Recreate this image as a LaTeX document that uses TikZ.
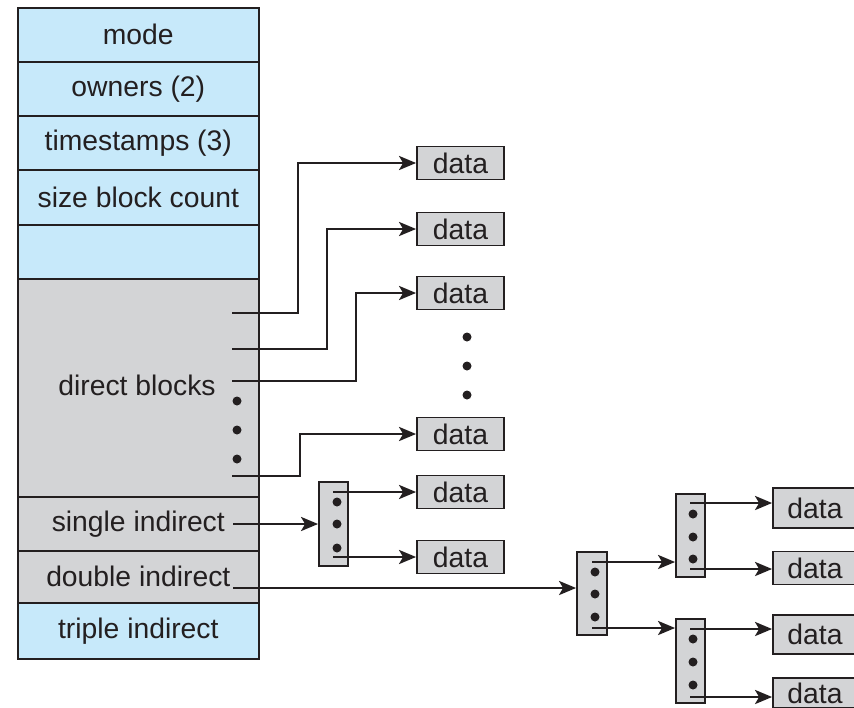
\documentclass[tikz,border=0pt]{standalone}
\usepackage{fontspec}
\setmainfont{Liberation Sans}
\usetikzlibrary{arrows.meta}
\definecolor{iblue}{RGB}{199,233,250}
\definecolor{igray}{RGB}{211,212,214}
\definecolor{ink}{RGB}{35,31,32}
\tikzset{
    cell/.style={draw=ink, line width=1.6pt, minimum width=241pt, inner sep=0pt,
        anchor=north west, text=ink, font=\fontsize{28.3}{30}\selectfont},
    datbox/.style={draw=ink, fill=igray, line width=1.8pt, minimum width=87pt,
        minimum height=33pt, inner sep=0pt, text=ink, font=\fontsize{28.3}{30}\selectfont},
    idxbox/.style={draw=ink, fill=igray, line width=1.8pt, minimum width=29pt,
        minimum height=84pt, inner sep=0pt},
    ptr/.style={draw=ink, line width=2.8pt, -{Stealth[length=17pt, width=14pt, inset=4pt]}},
}
\begin{document}
\begin{tikzpicture}[x=1pt, y=-1pt]
    \useasboundingbox (0, 0) rectangle (854, 707);
    % inode
    \node[cell, fill=iblue, minimum height=54pt] (mode) at (17, 7) {mode};
    \node[cell, fill=iblue, minimum height=54pt] (owners) at (17, 61) {owners (2)};
    \node[cell, fill=iblue, minimum height=54pt] (stamps) at (17, 115) {timestamps (3)};
    \node[cell, fill=iblue, minimum height=55pt] (size) at (17, 169) {size block count};
    \node[cell, fill=iblue, minimum height=54pt] (blank) at (17, 224) {};
    \node[cell, fill=igray, minimum height=218pt] (direct) at (17, 278) {};
    \node[cell, fill=igray, minimum height=54pt] (single) at (17, 496) {single indirect};
    \node[cell, fill=igray, minimum height=52pt] (double) at (17, 550) {double indirect};
    \node[cell, fill=iblue, minimum height=56pt] (triple) at (17, 602) {triple indirect};
    \node[text=ink, font=\fontsize{28.3}{30}\selectfont] (dirtxt) at (137, 385) {direct blocks};
    \foreach \y in {401, 430, 459} \fill[ink] (237, \y) circle (4.5);
    % data blocks
    \node[datbox] (d1) at (460.5, 163) {data};
    \node[datbox] (d2) at (460.5, 229) {data};
    \node[datbox] (d3) at (460.5, 293) {data};
    \foreach \y in {337, 366, 395} \fill[ink] (467, \y) circle (4.5);
    \node[datbox] (d4) at (460.5, 434) {data};
    \node[datbox] (d5) at (460.5, 492) {data};
    \node[datbox] (d6) at (460.5, 557) {data};
    % index blocks
    \node[idxbox] (sib) at (333.5, 524) {};
    \foreach \y in {502, 524, 548} \fill[ink] (337, \y) circle (4.5);
    \node[idxbox, minimum width=30pt, minimum height=83pt] (dib) at (592, 593.5) {};
    \foreach \y in {572, 594, 617} \fill[ink] (595, \y) circle (4.5);
    \node[idxbox, minimum height=83pt] (ib1) at (690.5, 535.5) {};
    \foreach \y in {514, 537, 559} \fill[ink] (693, \y) circle (4.5);
    \node[idxbox] (ib2) at (690.5, 661) {};
    \foreach \y in {639, 662, 685} \fill[ink] (693, \y) circle (4.5);
    \node[datbox, minimum width=84pt, minimum height=40pt] (r1) at (815, 508) {data};
    \node[datbox, minimum width=84pt] (r2) at (815, 568) {data};
    \node[datbox, minimum width=84pt, minimum height=39pt] (r3) at (815, 634.5) {data};
    \node[datbox, minimum width=84pt, minimum height=30pt] (r4) at (815, 693) {data};
    % pointers
    \coordinate (p1) at (232, 313);
    \coordinate (p2) at (232, 349);
    \coordinate (p3) at (232, 381);
    \coordinate (p4) at (232, 476);
    \draw[ptr] (p1) -- ++(66, 0) |- (d1.west);
    \draw[ptr] (p2) -- ++(95, 0) |- (d2.west);
    \draw[ptr] (p3) -- ++(124, 0) |- (d3.west);
    \draw[ptr] (p4) -- ++(68, 0) |- (d4.west);
    \coordinate (s0) at (233, 524);
    \coordinate (s1) at (333, 492);
    \coordinate (s2) at (333, 557);
    \draw[ptr] (s0) -- (sib.west);
    \draw[ptr] (s1) -- (d5.west);
    \draw[ptr] (s2) -- (d6.west);
    \coordinate (q0) at (233, 588);
    \coordinate (q1) at (592, 562);
    \coordinate (q2) at (592, 628);
    \draw[ptr] (q0) -- (q0 -| dib.west);
    \draw[ptr] (q1) -- (q1 -| ib1.west);
    \draw[ptr] (q2) -- (q2 -| ib2.west);
    \coordinate (t1) at (690, 503);
    \coordinate (t2) at (690, 569);
    \coordinate (t3) at (690, 629);
    \coordinate (t4) at (690, 697);
    \draw[ptr] (t1) -- (t1 -| r1.west);
    \draw[ptr] (t2) -- (t2 -| r2.west);
    \draw[ptr] (t3) -- (t3 -| r3.west);
    \draw[ptr] (t4) -- (t4 -| r4.west);
\end{tikzpicture}
\end{document}
